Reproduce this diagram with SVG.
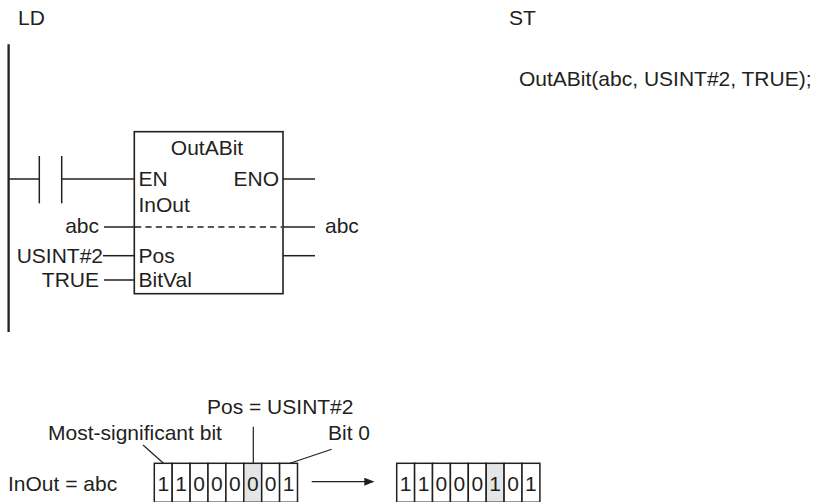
<svg xmlns="http://www.w3.org/2000/svg" width="816" height="502" viewBox="0 0 816 502">
<style>
text{font-family:"Liberation Sans",Arial,sans-serif;font-size:21px;fill:#231f20}
.ln{stroke:#231f20;stroke-width:1.5;fill:none}
.th{stroke:#231f20;stroke-width:1.2;fill:none}
.box{stroke:#231f20;stroke-width:1.6;fill:#fff}
.cell{stroke:#231f20;stroke-width:1.5;fill:#fff}
.hl{fill:#e4e5e6}
.e{text-anchor:end}
.m{text-anchor:middle}
</style>
<defs>
<marker id="ah" markerWidth="10" markerHeight="8" refX="9" refY="4" orient="auto" markerUnits="userSpaceOnUse">
<path d="M0,0 L10,4 L0,8 Z" fill="#231f20"/>
</marker>
</defs>
<rect width="816" height="502" fill="#fff"/>
<g id="titles">
<text x="18" y="25">LD</text>
<text x="509" y="25">ST</text>
</g>
<g id="st-code">
<text x="519" y="86">OutABit(abc, USINT#2, TRUE);</text>
</g>
<g id="rail">
<line x1="8.6" y1="44.3" x2="8.6" y2="332" stroke="#231f20" stroke-width="2.3"/>
</g>
<g id="contact">
<line class="ln" x1="39.3" y1="156" x2="39.3" y2="203.3"/>
<line class="ln" x1="61.7" y1="156" x2="61.7" y2="203.3"/>
</g>
<g id="outabit">
<rect class="box" x="134.3" y="131.7" width="148.7" height="162"/>
<text class="m" x="207" y="155">OutABit</text>
<text x="138.5" y="186">EN</text>
<text class="e" x="279" y="186">ENO</text>
<text x="138.5" y="212">InOut</text>
<text x="138.5" y="263">Pos</text>
<text x="138.5" y="287">BitVal</text>
<line x1="135" y1="227" x2="282" y2="227" stroke="#231f20" stroke-width="1.3" stroke-dasharray="6.2,4.2"/>
</g>
<g id="var-labels">
<text class="e" x="99" y="233">abc</text>
<text x="325" y="233">abc</text>
<text class="e" x="103" y="263">USINT#2</text>
<text class="e" x="99" y="287">TRUE</text>
</g>
<g id="connectors">
<line class="ln" x1="9" y1="179" x2="39.3" y2="179"/>
<line class="ln" x1="61.7" y1="179" x2="134.3" y2="179"/>
<line class="ln" x1="283" y1="179" x2="315" y2="179"/>
<line class="ln" x1="104" y1="227" x2="134.3" y2="227"/>
<line class="ln" x1="283" y1="227" x2="315" y2="227"/>
<line class="ln" x1="103" y1="255.7" x2="134.3" y2="255.7"/>
<line class="ln" x1="283" y1="255.7" x2="315" y2="255.7"/>
<line class="ln" x1="104" y1="280" x2="134.3" y2="280"/>
<line class="th" x1="253.3" y1="426.7" x2="253.3" y2="463.3"/>
<line class="th" x1="143" y1="445" x2="163.5" y2="463.3"/>
<line class="th" x1="331.7" y1="449.3" x2="290" y2="463.3"/>
<line class="th" x1="311.7" y1="481.7" x2="373.3" y2="481.7" marker-end="url(#ah)"/>
</g>
<g id="bit-labels">
<text x="207" y="414">Pos = USINT#2</text>
<text x="48" y="440">Most-significant bit</text>
<text x="328" y="440">Bit 0</text>
<text x="8" y="491">InOut = abc</text>
</g>
<g id="bits-before">
<rect class="cell" x="154.3" y="463.3" width="17.9" height="39"/>
<rect class="cell" x="172.2" y="463.3" width="17.9" height="39"/>
<rect class="cell" x="190.1" y="463.3" width="17.9" height="39"/>
<rect class="cell" x="208" y="463.3" width="17.9" height="39"/>
<rect class="cell" x="225.9" y="463.3" width="17.9" height="39"/>
<rect class="cell hl" x="243.8" y="463.3" width="17.9" height="39"/>
<rect class="cell" x="261.7" y="463.3" width="17.9" height="39"/>
<rect class="cell" x="279.6" y="463.3" width="17.9" height="39"/>
<text class="m" x="163.25" y="491">1</text>
<text class="m" x="181.15" y="491">1</text>
<text class="m" x="199.05" y="491">0</text>
<text class="m" x="216.95" y="491">0</text>
<text class="m" x="234.85" y="491">0</text>
<text class="m" x="252.75" y="491">0</text>
<text class="m" x="270.65" y="491">0</text>
<text class="m" x="288.55" y="491">1</text>
</g>
<g id="bits-after">
<rect class="cell" x="396.7" y="463.3" width="17.9" height="39"/>
<rect class="cell" x="414.6" y="463.3" width="17.9" height="39"/>
<rect class="cell" x="432.5" y="463.3" width="17.9" height="39"/>
<rect class="cell" x="450.4" y="463.3" width="17.9" height="39"/>
<rect class="cell" x="468.3" y="463.3" width="17.9" height="39"/>
<rect class="cell hl" x="486.2" y="463.3" width="17.9" height="39"/>
<rect class="cell" x="504.1" y="463.3" width="17.9" height="39"/>
<rect class="cell" x="522" y="463.3" width="17.9" height="39"/>
<text class="m" x="405.65" y="491">1</text>
<text class="m" x="423.55" y="491">1</text>
<text class="m" x="441.45" y="491">0</text>
<text class="m" x="459.35" y="491">0</text>
<text class="m" x="477.25" y="491">0</text>
<text class="m" x="495.15" y="491">1</text>
<text class="m" x="513.05" y="491">0</text>
<text class="m" x="530.95" y="491">1</text>
</g>
</svg>
